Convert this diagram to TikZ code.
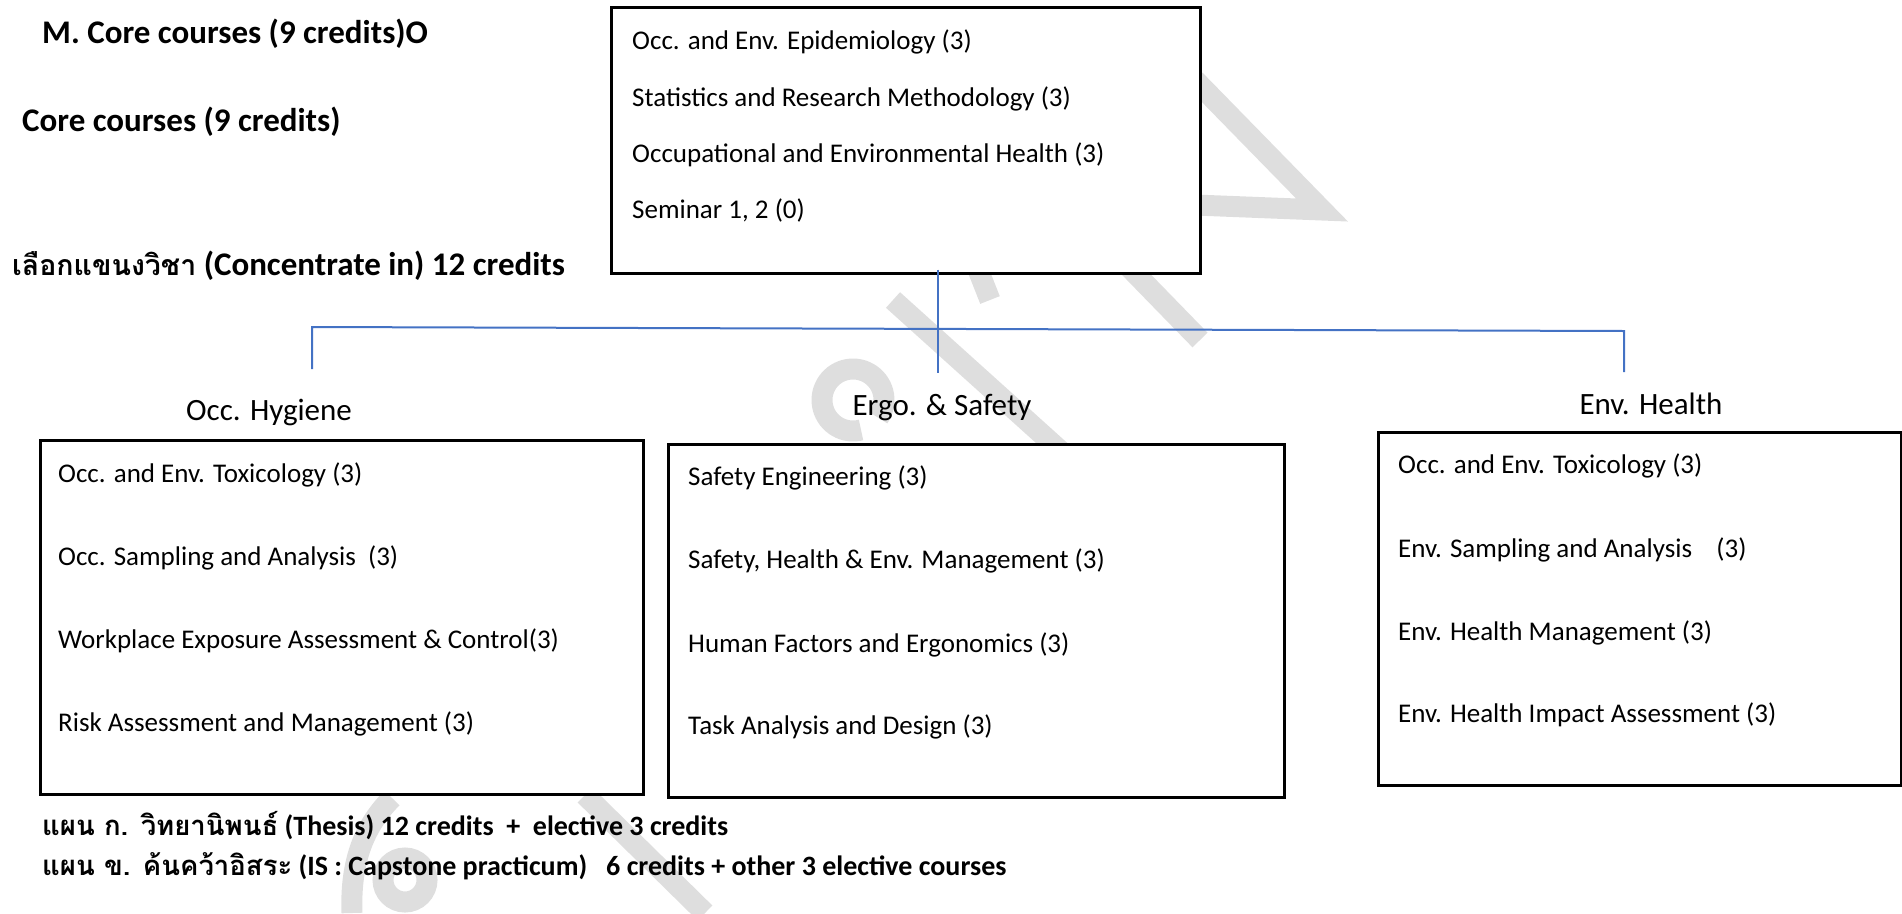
\documentclass[tikz,border=0pt]{standalone}
\usepackage{fontspec}
\setmainfont{Carlito}
\newfontfamily\thai[Script=Thai]{Loma}
\definecolor{connblue}{HTML}{4472C4}
\definecolor{wmgray}{HTML}{DEDEDE}
\tikzset{
  boxframe/.style={draw=black, line width=2.6pt, fill=white, inner sep=0pt, anchor=north west},
  conn/.style={draw=connblue, line width=2pt},
  wm/.style={draw=wmgray, line width=21pt},
  item/.style={anchor=base west, inner sep=0pt, font=\fontsize{27}{32}\selectfont},
  branch/.style={anchor=base, inner sep=0pt, font=\fontsize{31}{36}\selectfont},
  biglabel/.style={anchor=base west, inner sep=0pt, font=\fontsize{33}{38}\selectfont\bfseries},
  footlabel/.style={anchor=base west, inner sep=0pt, font=\fontsize{28}{33}\selectfont\bfseries}
}
\begin{document}
\begin{tikzpicture}[x=1pt, y=-1pt]
\useasboundingbox (0,0) rectangle (1902,913);
% watermark (behind)
\draw[wm, line join=miter] (1195,80) -- (1322,210) -- (1195,205);
\draw[wm] (1128,266) -- (1200,340);
\draw[wm] (893,300) -- (1065,455);
\draw[wm] (975,262) -- (990,300);
\draw[wm] (853,400) ++(75:31) arc[start angle=75, end angle=395, radius=31];
\draw[wm] (352,913) .. controls (350,860) and (365,825) .. (392,798);
\draw[wm] (405,880) circle[radius=22];
\draw[wm] (585,795) -- (705,913);
% boxes
\node[boxframe, minimum width=589pt, minimum height=266pt] (core) at (610,6) {};
\node[boxframe, minimum width=603pt, minimum height=354pt] (hyg) at (39,439) {};
\node[boxframe, minimum width=616pt, minimum height=353pt] (ergo) at (667,443) {};
\node[boxframe, minimum width=523pt, minimum height=353pt] (env) at (1377,431) {};
% left labels
\node[biglabel] (lm) at (42,43) {M. Core courses (9 credits)O};
\node[biglabel] (lc) at (22,131) {Core courses (9 credits)};
\node[biglabel] (lt) at (12,275) {{\thai\fontsize{28.5}{33}\selectfont เลือกแขนงวิชา} (Concentrate in) 12 credits};
% core items
\node[item] (c1) at (632,49) {Occ. and Env. Epidemiology (3)};
\node[item] (c2) at (632,106) {Statistics and Research Methodology (3)};
\node[item] (c3) at (632,162) {Occupational and Environmental Health (3)};
\node[item] (c4) at (632,218) {Seminar 1, 2 (0)};
% connectors
\coordinate (jM) at (938,329);
\coordinate (jL) at (312,327);
\coordinate (jR) at (1624,331);
\coordinate (dL) at (312,369);
\coordinate (dM) at (938,373);
\coordinate (dR) at (1624,372);
\draw[conn] ([yshift=5pt]core.south -| jM) -- (dM);
\draw[conn] (dL) -- (jL) -- (jR) -- (dR);
% branch labels
\node[branch] (bh) at (269,420) {Occ. Hygiene};
\node[branch] (be) at (942,415) {Ergo. \& Safety};
\node[branch] (bv) at (1651,414) {Env. Health};
% hygiene items
\node[item] (h1) at (58,482) {Occ. and Env. Toxicology (3)};
\node[item] (h2) at (58,565) {Occ. Sampling and Analysis\ \ (3)};
\node[item] (h3) at (58,648) {Workplace Exposure Assessment \& Control(3)};
\node[item] (h4) at (58,731) {Risk Assessment and Management (3)};
% ergo items
\node[item] (e1) at (688,485) {Safety Engineering (3)};
\node[item] (e2) at (688,568) {Safety, Health \& Env. Management (3)};
\node[item] (e3) at (688,652) {Human Factors and Ergonomics (3)};
\node[item] (e4) at (688,734) {Task Analysis and Design (3)};
% env items
\node[item] (v1) at (1398,473) {Occ. and Env. Toxicology (3)};
\node[item] (v2) at (1398,557) {Env. Sampling and Analysis\ \ \ \ (3)};
\node[item] (v3) at (1398,640) {Env. Health Management (3)};
\node[item] (v4) at (1398,722) {Env. Health Impact Assessment (3)};
% bottom labels
\node[footlabel] (f1) at (42,835) {{\thai\fontsize{27.5}{33}\selectfont แผน ก. วิทยานิพนธ์} (Thesis) 12 credits\ \ +\ \ elective 3 credits};
\node[footlabel] (f2) at (42,875) {{\thai\fontsize{27.5}{33}\selectfont แผน ข. ค้นคว้าอิสระ} (IS : Capstone practicum)\ \ \ 6 credits + other 3 elective courses};
\end{tikzpicture}
\end{document}
